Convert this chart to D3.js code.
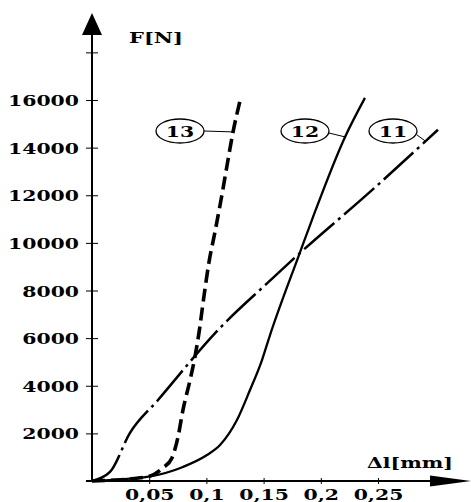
<!DOCTYPE html>
<html>
<head>
<meta charset="utf-8">
<script src="https://cdn.jsdelivr.net/npm/d3@7"></script>
<style>
  body { margin: 0; background: #fff; }
  svg { display: block; }
</style>
</head>
<body>
<div id="chart"></div>
<script>
// Force F [N] against elongation dl [mm], three specimens
var fTicks = [2000, 4000, 6000, 8000, 10000, 12000, 14000, 16000, 18000];
var fTickLabels = ["2000", "4000", "6000", "8000", "10000", "12000", "14000", "16000", ""];
var dlTicks = [0.05, 0.1, 0.15, 0.2, 0.25];
var dlTickLabels = ["0,05", "0,1", "0,15", "0,2", "0,25"];

// [dl, F]
var curve11 = [[0, 0], [0.0157, 380], [0.0332, 2020], [0.0577, 3400], [0.1119, 6430],
               [0.153, 8300], [0.181, 9540], [0.243, 12140], [0.3024, 14750]];
var curve12 = [[0, 0], [0.048, 170], [0.0795, 590], [0.1005, 1090], [0.1119, 1510],
               [0.1267, 2560], [0.1381, 3820], [0.1486, 5080], [0.1556, 6130],
               [0.181, 9500], [0.1923, 10970], [0.2212, 14450], [0.2386, 16090]];
var curve13 = [[0, 0], [0.048, 170], [0.062, 550], [0.0699, 970], [0.0752, 1850],
               [0.0795, 2980], [0.0857, 4240], [0.09, 5210], [0.0935, 6220],
               [0.0979, 7770], [0.1023, 9200], [0.1075, 10460], [0.1128, 11810],
               [0.118, 13240], [0.1233, 14660], [0.1294, 15970]];
var curveNames = ["11", "12", "13"];
var calloutPoints = [[0.291, 14290], [0.2212, 14450], [0.1233, 14660]];

var width = 471, height = 502;
var font = "'DejaVu Serif', serif";
var fontSize = "15px";

var svg = d3.select("#chart")
    .append("svg")
        .attr("width", width)
        .attr("height", height);

// work out how much the bold serif has to be widened ("16000" is ~71px wide)
var probe = svg.append("text")
    .style("font-family", font).style("font-size", fontSize).style("font-weight", "bold")
    .text("16000");
var stretch = 71 / probe.node().getComputedTextLength();
probe.remove();

var x = d3.scaleLinear().domain([0, 0.3]).range([92, 92 + 0.3 * 1144]);
var y = d3.scaleLinear().domain([0, 16000]).range([481, 100]);
var x0 = x(0), y0 = y(0);

// Axis lines with arrow heads
svg.append("line")
    .attr("x1", x0).attr("x2", x0).attr("y1", 33).attr("y2", y0)
    .attr("stroke", "#000").attr("stroke-width", 2);
svg.append("path")
    .attr("d", "M" + x0 + ",13L" + (x0 - 10) + ",35L" + (x0 + 10) + ",35Z")
    .attr("fill", "#000");

svg.append("line")
    .attr("x1", x0 - 6).attr("x2", 432).attr("y1", y0).attr("y2", y0)
    .attr("stroke", "#000").attr("stroke-width", 2);
svg.append("path")
    .attr("d", "M471," + y0 + "L430," + (y0 - 5.5) + "L430," + (y0 + 5.5) + "Z")
    .attr("fill", "#000");

// Y ticks cross the axis
var yAxis = svg.append("g")
    .attr("transform", "translate(" + (x0 + 6) + ",0)")
    .call(d3.axisLeft(y).tickValues(fTicks)
        .tickFormat((d, i) => fTickLabels[i])
        .tickSizeInner(12).tickSizeOuter(0));
yAxis.select(".domain").remove();
yAxis.selectAll("line").attr("stroke", "#000").attr("stroke-width", 1);
yAxis.selectAll("text")
    .attr("x", null).attr("dy", null)
    .attr("transform", "translate(-19,5.5) scale(" + stretch + ",1)")
    .attr("text-anchor", "end")
    .attr("fill", "#000")
    .style("font-family", font).style("font-size", fontSize).style("font-weight", "bold");

var xAxis = svg.append("g")
    .attr("transform", "translate(0," + (y0 - 3) + ")")
    .call(d3.axisBottom(x).tickValues(dlTicks)
        .tickFormat((d, i) => dlTickLabels[i])
        .tickSizeInner(6).tickSizeOuter(0));
xAxis.select(".domain").remove();
xAxis.selectAll("line").attr("stroke", "#000").attr("stroke-width", 1);
xAxis.selectAll("text")
    .attr("y", null).attr("dy", null)
    .attr("transform", "translate(0,22) scale(" + stretch + ",1)")
    .attr("text-anchor", "middle")
    .attr("fill", "#000")
    .style("font-family", font).style("font-size", fontSize).style("font-weight", "bold");

// Axis titles
function stretchedText(px, py, str, w) {
    var t = svg.append("text")
        .style("font-family", font).style("font-size", fontSize).style("font-weight", "bold")
        .text(str);
    var sx = w / t.node().getComputedTextLength();
    t.attr("transform", "translate(" + px + "," + py + ") scale(" + sx + ",1)");
}
stretchedText(129, 43, "F[N]", 54);
stretchedText(367, 468, "\u0394l[mm]", 86);

// Curves
var line = d3.line()
    .x(d => x(d[0]))
    .y(d => y(d[1]))
    .curve(d3.curveMonotoneX);

var curves = [
    {data: curve11, width: 2.5, dash: "40,5,3,5"},
    {data: curve12, width: 2.3, dash: null},
    {data: curve13, width: 3.6, dash: "13,6"}
];

svg.append("g")
    .selectAll("path")
    .data(curves)
    .enter().append("path")
    .attr("d", d => line(d.data))
    .attr("fill", "none")
    .attr("stroke", "#000")
    .attr("stroke-width", d => d.width)
    .attr("stroke-dasharray", d => d.dash);

// Numbered callouts
var bubbles = [{cx: 393, cy: 131, dy: 4}, {cx: 305, cy: 131, dy: 2}, {cx: 180, cy: 131, dy: 0}];
var rx = 24, ry = 12;

curveNames.forEach(function(name, i) {
    var b = bubbles[i];
    var p = calloutPoints[i];
    svg.append("line")
        .attr("x1", b.cx + rx).attr("y1", b.cy + b.dy)
        .attr("x2", x(p[0])).attr("y2", y(p[1]))
        .attr("stroke", "#000").attr("stroke-width", 1);
    svg.append("ellipse")
        .attr("cx", b.cx).attr("cy", b.cy).attr("rx", rx).attr("ry", ry)
        .attr("fill", "#fff").attr("stroke", "#000").attr("stroke-width", 1.3);
    svg.append("text")
        .attr("transform", "translate(" + b.cx + "," + (b.cy + 5.5) + ") scale(" + stretch + ",1)")
        .attr("text-anchor", "middle")
        .style("font-family", font).style("font-size", fontSize).style("font-weight", "bold")
        .text(name);
});
</script>
</body>
</html>
